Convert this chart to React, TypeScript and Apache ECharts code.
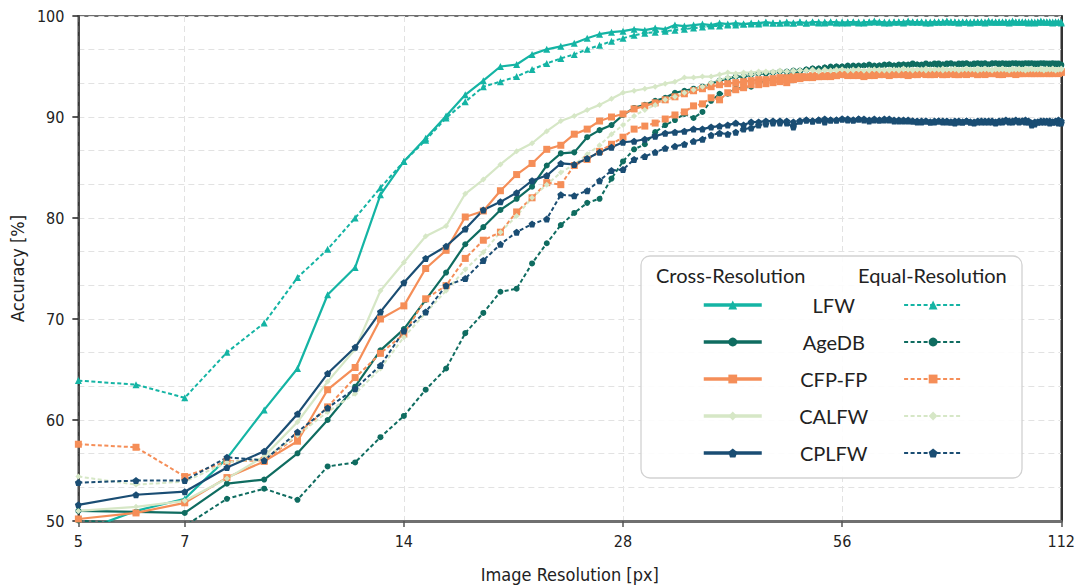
import React, { useEffect, useRef } from 'react';
import * as echarts from 'echarts';

const resolutions = [
  5, 6, 7, 8, 9, 10, 11, 12, 13, 14,
  15, 16, 17, 18, 19, 20, 21, 22, 23, 24,
  25, 26, 27, 28, 29, 30, 31, 32, 33, 34,
  35, 36, 37, 38, 39, 40, 41, 42, 43, 44,
  45, 46, 47, 48, 49, 50, 51, 52, 53, 54,
  55, 56, 57, 58, 59, 60, 61, 62, 63, 64,
  65, 66, 67, 68, 69, 70, 71, 72, 73, 74,
  75, 76, 77, 78, 79, 80, 81, 82, 83, 84,
  85, 86, 87, 88, 89, 90, 91, 92, 93, 94,
  95, 96, 97, 98, 99, 100, 101, 102, 103, 104,
  105, 106, 107, 108, 109, 110, 111, 112,
];
const xTickLabels = [5, 7, 14, 28, 56, 112];

const lfwCross = [
  48.9, 51.0, 52.2, 56.2, 61.0, 65.1, 72.4, 75.1, 82.3, 85.6,
  87.9, 90.1, 92.2, 93.6, 95.0, 95.2, 96.2, 96.7, 97.0, 97.3,
  97.8, 98.2, 98.4, 98.5, 98.7, 98.6, 98.8, 98.7, 99.1, 99.0,
  99.1, 99.2, 99.1, 99.3, 99.2, 99.3, 99.2, 99.3, 99.3, 99.4,
  99.3, 99.3, 99.4, 99.3, 99.4, 99.3, 99.4, 99.4, 99.3, 99.4,
  99.4, 99.3,
  99.4, 99.4, 99.3, 99.4, 99.4, 99.5, 99.4, 99.4, 99.3, 99.4,
  99.4, 99.4, 99.5, 99.4, 99.4, 99.4, 99.3, 99.4, 99.4, 99.4,
  99.4, 99.5, 99.4, 99.4, 99.4, 99.4, 99.4, 99.3, 99.4, 99.4,
  99.4, 99.4, 99.5, 99.4, 99.4, 99.4, 99.4, 99.4, 99.4, 99.5,
  99.4, 99.4, 99.4, 99.4, 99.3, 99.4, 99.4, 99.4, 99.5, 99.4,
  99.4, 99.4, 99.4, 99.4, 99.4, 99.4,
];
const lfwEqual = [
  63.9, 63.5, 62.2, 66.7, 69.6, 74.1, 76.9, 80.0, 83.0, 85.6,
  87.7, 89.9, 91.5, 93.0, 93.5, 94.0, 94.7, 95.3, 95.8, 96.2,
  96.7, 97.1, 97.5, 97.8, 98.1, 98.3, 98.4, 98.5, 98.6, 98.7,
  98.8, 98.9, 99.0, 99.0, 99.1, 99.1, 99.2, 99.2, 99.2, 99.3,
  99.3, 99.3, 99.3, 99.3, 99.4, 99.3, 99.4, 99.3, 99.4, 99.4,
  99.3, 99.4,
  99.3, 99.4, 99.4, 99.3, 99.4, 99.4, 99.4, 99.3, 99.4, 99.4,
  99.4, 99.3, 99.4, 99.4, 99.4, 99.4, 99.4, 99.3, 99.4, 99.4,
  99.4, 99.4, 99.4, 99.4, 99.3, 99.4, 99.4, 99.4, 99.4, 99.4,
  99.4, 99.3, 99.4, 99.4, 99.4, 99.4, 99.4, 99.4, 99.3, 99.4,
  99.4, 99.4, 99.4, 99.4, 99.4, 99.4, 99.3, 99.4, 99.4, 99.4,
  99.4, 99.4, 99.3, 99.4, 99.4, 99.3,
];
const agedbCross = [
  51.0, 50.9, 50.8, 53.7, 54.1, 56.7, 60.0, 63.3, 66.9, 69.0,
  71.9, 74.6, 77.4, 79.1, 80.8, 81.9, 83.1, 85.2, 86.4, 86.5,
  88.0, 88.7, 89.2, 90.2, 90.9, 91.2, 91.6, 91.9, 92.4, 92.6,
  92.8, 93.0, 93.3, 93.6, 93.8, 94.0, 94.0, 94.2, 94.3, 94.3,
  94.4, 94.5, 94.5, 94.6, 94.6, 94.7, 94.8, 94.8, 94.9, 94.9,
  95.0, 95.0,
  95.0, 95.1, 95.0, 95.1, 95.1, 95.0, 95.1, 95.1, 95.2, 95.1,
  95.1, 95.2, 95.1, 95.2, 95.2, 95.1, 95.2, 95.2, 95.2, 95.1,
  95.2, 95.2, 95.3, 95.2, 95.2, 95.2, 95.3, 95.2, 95.2, 95.3,
  95.2, 95.3, 95.2, 95.3, 95.3, 95.2, 95.3, 95.3, 95.2, 95.3,
  95.3, 95.3, 95.2, 95.3, 95.3, 95.3, 95.2, 95.3, 95.3, 95.3,
  95.3, 95.2, 95.3, 95.3, 95.2, 95.2,
];
const agedbEqual = [
  50.05, 49.7, 49.5, 52.2, 53.2, 52.1, 55.4, 55.8, 58.3, 60.4,
  63.0, 65.1, 68.6, 70.6, 72.7, 73.0, 75.5, 77.5, 79.3, 80.5,
  81.5, 81.9, 83.9, 85.6, 86.8, 87.3, 88.5, 89.2, 89.7, 90.3,
  89.9, 90.5, 91.6, 92.3, 92.3, 92.8, 92.9, 93.0, 93.3, 93.6,
  93.8, 93.9, 94.1, 94.3, 94.5, 94.7, 94.8, 94.8, 94.9, 95.0,
  95.0, 95.0,
  95.1, 95.0, 95.1, 95.1, 95.2, 95.1, 95.1, 95.2, 95.2, 95.1,
  95.2, 95.2, 95.2, 95.3, 95.2, 95.2, 95.3, 95.2, 95.3, 95.3,
  95.2, 95.3, 95.3, 95.2, 95.3, 95.3, 95.3, 95.2, 95.3, 95.3,
  95.3, 95.3, 95.2, 95.3, 95.3, 95.3, 95.3, 95.2, 95.3, 95.3,
  95.3, 95.2, 95.3, 95.3, 95.3, 95.3, 95.3, 95.2, 95.3, 95.3,
  95.2, 95.3, 95.3, 95.2, 95.3, 95.1,
];
const cfpCross = [
  50.2, 50.8, 51.8, 54.3, 55.9, 57.9, 63.0, 65.2, 70.0, 71.3,
  75.0, 76.8, 80.1, 80.7, 82.7, 84.3, 85.4, 86.8, 87.2, 88.3,
  88.8, 89.6, 90.0, 90.3, 90.8, 91.1, 91.4, 91.7, 92.0, 92.3,
  92.6, 92.8, 93.0, 93.2, 93.3, 93.4, 93.5, 93.6, 93.7, 93.7,
  93.8, 93.9, 93.9, 94.0, 94.0, 94.0, 94.1, 94.0, 94.1, 94.1,
  94.1, 94.2,
  94.2, 94.1, 94.2, 94.2, 94.1, 94.2, 94.2, 94.3, 94.2, 94.2,
  94.3, 94.2, 94.2, 94.3, 94.2, 94.3, 94.3, 94.2, 94.3, 94.3,
  94.2, 94.3, 94.3, 94.3, 94.2, 94.3, 94.3, 94.3, 94.3, 94.2,
  94.3, 94.3, 94.4, 94.3, 94.3, 94.3, 94.2, 94.3, 94.3, 94.4,
  94.3, 94.3, 94.3, 94.4, 94.3, 94.3, 94.3, 94.4, 94.3, 94.3,
  94.4, 94.3, 94.3, 94.4, 94.3, 94.4,
];
const cfpEqual = [
  57.6, 57.3, 54.4, 55.9, 56.0, 58.4, 61.3, 64.2, 66.6, 68.5,
  72.0, 73.3, 76.0, 77.8, 78.6, 80.6, 82.0, 83.5, 83.3, 85.2,
  85.8, 86.6, 87.3, 88.0, 88.8, 89.1, 89.4, 89.8, 90.2, 90.5,
  91.1, 91.3, 91.9, 91.7, 92.4, 92.7, 92.9, 93.2, 93.2, 93.3,
  93.4, 93.5, 93.4, 93.7, 93.8, 93.9, 93.9, 94.0, 94.0, 94.0,
  94.1, 94.2,
  94.1, 94.2, 94.1, 94.0, 94.2, 94.1, 94.2, 94.2, 94.1, 94.2,
  94.2, 94.2, 94.1, 94.2, 94.2, 94.3, 94.2, 94.2, 94.2, 94.3,
  94.2, 94.2, 94.3, 94.2, 94.2, 94.3, 94.2, 94.3, 94.3, 94.2,
  94.3, 94.2, 94.3, 94.3, 94.3, 94.2, 94.3, 94.3, 94.3, 94.3,
  94.2, 94.3, 94.3, 94.3, 94.4, 94.3, 94.3, 94.3, 94.3, 94.4,
  94.3, 94.3, 94.4, 94.3, 94.4, 94.5,
];
const calfwCross = [
  51.0, 51.4, 52.0, 54.2, 56.4, 59.8, 63.8, 67.0, 72.8, 75.6,
  78.2, 79.2, 82.4, 83.8, 85.3, 86.6, 87.4, 88.6, 89.6, 90.1,
  90.7, 91.2, 91.8, 92.4, 92.6, 92.8, 93.0, 93.3, 93.5, 93.9,
  93.9, 94.0, 94.0, 94.2, 94.4, 94.3, 94.4, 94.4, 94.5, 94.5,
  94.5, 94.6, 94.5, 94.6, 94.6, 94.6, 94.7, 94.6, 94.7, 94.6,
  94.7, 94.7,
  94.6, 94.7, 94.7, 94.6, 94.7, 94.7, 94.7, 94.6, 94.7, 94.7,
  94.7, 94.8, 94.7, 94.7, 94.7, 94.7, 94.8, 94.7, 94.7, 94.7,
  94.8, 94.7, 94.7, 94.8, 94.7, 94.7, 94.8, 94.7, 94.7, 94.8,
  94.7, 94.8, 94.7, 94.7, 94.8, 94.7, 94.8, 94.7, 94.7, 94.8,
  94.7, 94.8, 94.7, 94.8, 94.7, 94.8, 94.7, 94.7, 94.8, 94.7,
  94.8, 94.7, 94.8, 94.7, 94.7, 94.8,
];
const calfwEqual = [
  54.4, 53.6, 53.9, 55.8, 56.2, 58.5, 60.8, 62.6, 65.1, 68.2,
  70.6, 72.8, 74.9, 76.6, 78.6, 80.2, 82.0, 83.3, 84.5, 85.3,
  86.3, 87.2, 88.3, 89.2, 90.1, 90.7, 91.2, 91.7, 92.0, 92.4,
  92.7, 93.0, 93.4, 93.7, 93.9, 94.0, 94.1, 94.2, 94.3, 94.4,
  94.4, 94.5, 94.5, 94.5, 94.6, 94.6, 94.6, 94.5, 94.6, 94.6,
  94.6, 94.7,
  94.6, 94.6, 94.7, 94.6, 94.6, 94.7, 94.6, 94.7, 94.6, 94.7,
  94.6, 94.7, 94.7, 94.6, 94.7, 94.7, 94.6, 94.7, 94.7, 94.7,
  94.6, 94.7, 94.7, 94.7, 94.6, 94.7, 94.7, 94.7, 94.7, 94.6,
  94.7, 94.7, 94.7, 94.6, 94.7, 94.7, 94.7, 94.7, 94.6, 94.7,
  94.7, 94.7, 94.7, 94.6, 94.7, 94.7, 94.7, 94.7, 94.7, 94.6,
  94.7, 94.7, 94.7, 94.6, 94.7, 94.7,
];
const cplfwCross = [
  51.6, 52.6, 52.9, 55.3, 56.9, 60.6, 64.6, 67.2, 70.7, 73.6,
  76.0, 77.2, 78.9, 80.8, 81.6, 82.5, 83.7, 84.2, 85.4, 85.3,
  85.9, 86.5, 87.0, 87.5, 87.6, 87.8, 88.1, 88.4, 88.5, 88.6,
  88.8, 88.8, 89.0, 89.1, 89.2, 89.4, 89.2, 89.5, 89.5, 89.6,
  89.6, 89.6, 89.4, 89.0, 89.6, 89.7, 89.6, 89.7, 89.5, 89.7,
  89.7, 89.8,
  89.7, 89.7, 89.8, 89.7, 89.6, 89.7, 89.7, 89.8, 89.7, 89.6,
  89.7, 89.6, 89.7, 89.6, 89.6, 89.5, 89.6, 89.5, 89.6, 89.6,
  89.5, 89.6, 89.5, 89.6, 89.6, 89.5, 89.6, 89.5, 89.5, 89.6,
  89.6, 89.5, 89.6, 89.6, 89.5, 89.6, 89.6, 89.7, 89.6, 89.6,
  89.7, 89.6, 89.6, 89.7, 89.6, 89.2, 89.3, 89.5, 89.6, 89.5,
  89.6, 89.6, 89.5, 89.6, 89.7, 89.6,
];
const cplfwEqual = [
  53.8, 54.0, 54.0, 56.3, 56.0, 58.8, 61.2, 63.1, 65.4, 68.8,
  70.7, 73.3, 74.0, 75.8, 77.4, 78.6, 79.4, 79.9, 82.3, 82.2,
  82.7, 83.7, 84.7, 84.8, 85.8, 86.1, 86.5, 86.9, 87.1, 87.3,
  87.6, 87.8, 88.2, 88.4, 88.3, 88.5, 88.8, 88.9, 89.2, 89.3,
  89.4, 89.4, 89.6, 89.5, 89.6, 89.7, 89.6, 89.7, 89.8, 89.7,
  89.7, 89.8,
  89.8, 89.7, 89.8, 89.8, 89.7, 89.8, 89.7, 89.7, 89.8, 89.7,
  89.6, 89.7, 89.6, 89.6, 89.5, 89.6, 89.6, 89.5, 89.5, 89.6,
  89.6, 89.5, 89.5, 89.4, 89.5, 89.5, 89.6, 89.5, 89.4, 89.5,
  89.5, 89.6, 89.5, 89.5, 89.4, 89.5, 89.5, 89.6, 89.5, 89.5,
  89.6, 89.5, 89.6, 89.5, 89.5, 89.4, 89.5, 89.5, 89.5, 89.6,
  89.5, 89.4, 89.5, 89.5, 89.4, 89.4,
];

const datasetNames = ['LFW', 'AgeDB', 'CFP-FP', 'CALFW', 'CPLFW'];
const crossValues = [lfwCross, agedbCross, cfpCross, calfwCross, cplfwCross];
const equalValues = [lfwEqual, agedbEqual, cfpEqual, calfwEqual, cplfwEqual];
const colors = ['#14b4a4', '#0f6c60', '#f58e58', '#d6e7c6', '#1a4d73'];
const PENTAGON = 'path://M10,0 L19.51,6.91 L15.88,18.09 L4.12,18.09 L0.49,6.91 Z';
const symbols = ['triangle', 'circle', 'rect', 'diamond', PENTAGON];
const symbolSizes = [7, 6, 7, 6, 7];

const AXIS_FONT = '"DejaVu Sans Condensed", "Liberation Sans Narrow", sans-serif';
const LEGEND_FONT = 'Lato, "Open Sans", sans-serif';
const EQUAL_SUFFIX = ' (equal)';

function makeSeries(idx: number, dashed: boolean) {
  const values = dashed ? equalValues[idx] : crossValues[idx];
  const color = colors[idx];
  return {
    type: 'line',
    name: datasetNames[idx] + (dashed ? EQUAL_SUFFIX : ''),
    data: resolutions.map((r, i) => [Math.log2(r), values[i]]),
    symbol: symbols[idx],
    symbolSize: symbolSizes[idx],
    showSymbol: true,
    clip: true,
    lineStyle: { color, width: dashed ? 2 : 2.2, type: dashed ? [4, 2.5] : 'solid' },
    itemStyle: { color },
    emphasis: { disabled: true },
    z: 2,
  };
}

export default function App() {
  const ref = useRef<HTMLDivElement>(null);
  useEffect(() => {
    if (!ref.current) return;
    const chart = echarts.init(ref.current, undefined, { renderer: 'svg' });
    const series: any[] = [];
    datasetNames.forEach((_, i) => {
      series.push(makeSeries(i, false));
      series.push(makeSeries(i, true));
    });
    const xTicks = xTickLabels.map((v) => Math.log2(v));
    const gridLine = { show: true, lineStyle: { color: '#e2e2e2', type: [6, 4], width: 1 } };
    chart.setOption({
      animation: false,
      backgroundColor: '#ffffff',
      grid: {
        left: 76, right: 15, top: 16, bottom: 65,
        show: true, borderColor: '#707070', borderWidth: 2,
      },
      xAxis: {
        type: 'value',
        min: Math.log2(5),
        max: Math.log2(112),
        name: 'Image Resolution [px]',
        nameLocation: 'middle',
        nameGap: 44,
        nameTextStyle: { fontSize: 18, fontFamily: AXIS_FONT, color: '#222' },
        axisLine: { show: true, lineStyle: { color: '#707070', width: 3 } },
        axisTick: { show: true, customValues: xTicks, length: 6, lineStyle: { color: '#555', width: 1.5 } },
        axisLabel: {
          customValues: xTicks,
          formatter: (v: number) => String(Math.round(Math.pow(2, v))),
          fontSize: 16, fontFamily: AXIS_FONT, color: '#222', margin: 12,
          showMinLabel: true, showMaxLabel: true,
        },
        splitLine: gridLine,
      },
      yAxis: [
        {
          type: 'value',
          min: 50, max: 100, interval: 10,
          name: 'Accuracy [%]',
          nameLocation: 'middle',
          nameGap: 48,
          nameTextStyle: { fontSize: 18, fontFamily: AXIS_FONT, color: '#222' },
          axisLine: { show: true, lineStyle: { color: '#222', width: 1.5 } },
          axisTick: { show: true, length: 6, lineStyle: { color: '#222', width: 1.5 } },
          axisLabel: { fontSize: 16, fontFamily: AXIS_FONT, color: '#222', margin: 14 },
          splitLine: gridLine,
          minorTick: { show: false, splitNumber: 3 },
          minorSplitLine: gridLine,
        },
        {
          type: 'value', position: 'right', min: 50, max: 100,
          axisLine: { show: true, lineStyle: { color: '#333', width: 2 } },
          axisTick: { show: false }, axisLabel: { show: false }, splitLine: { show: false },
        },
      ],
      legend: [
        {
          data: datasetNames,
          orient: 'vertical', left: 702, top: 295,
          itemWidth: 58, itemHeight: 11, itemGap: 17, padding: 0,
          selectedMode: false, z: 10,
          formatter: (name: string) => `{n|${name}}`,
          textStyle: {
            rich: { n: { width: 134, align: 'center', fontSize: 20, lineHeight: 20, fontFamily: LEGEND_FONT, color: '#222' } },
          },
          lineStyle: { width: 3.5 },
        },
        {
          data: datasetNames.map((n) => n + EQUAL_SUFFIX),
          orient: 'vertical', left: 903, top: 295,
          itemWidth: 58, itemHeight: 11, itemGap: 17, padding: 0,
          selectedMode: false, z: 10,
          formatter: () => '{n| }',
          textStyle: { rich: { n: { width: 2, fontSize: 20, lineHeight: 20 } } },
          lineStyle: { width: 2.2 },
        },
      ],
      graphic: [
        {
          type: 'rect', z: 5,
          shape: { x: 641, y: 256, width: 381, height: 222, r: 9 },
          style: { fill: 'rgba(255,255,255,0.88)', stroke: '#d2d2d2', lineWidth: 1.3 },
        },
        {
          type: 'text', z: 11, x: 656, y: 275,
          style: { text: 'Cross-Resolution', fontSize: 20, fontFamily: LEGEND_FONT, fill: '#222', verticalAlign: 'middle' },
        },
        {
          type: 'text', z: 11, x: 858, y: 275,
          style: { text: 'Equal-Resolution', fontSize: 20, fontFamily: LEGEND_FONT, fill: '#222', verticalAlign: 'middle' },
        },
      ],
      series,
    });
    return () => chart.dispose();
  }, []);
  return (
    <div
      ref={ref}
      style={{ position: 'absolute', left: 0, top: 0, width: 1078, height: 588, background: '#fff' }}
    />
  );
}
